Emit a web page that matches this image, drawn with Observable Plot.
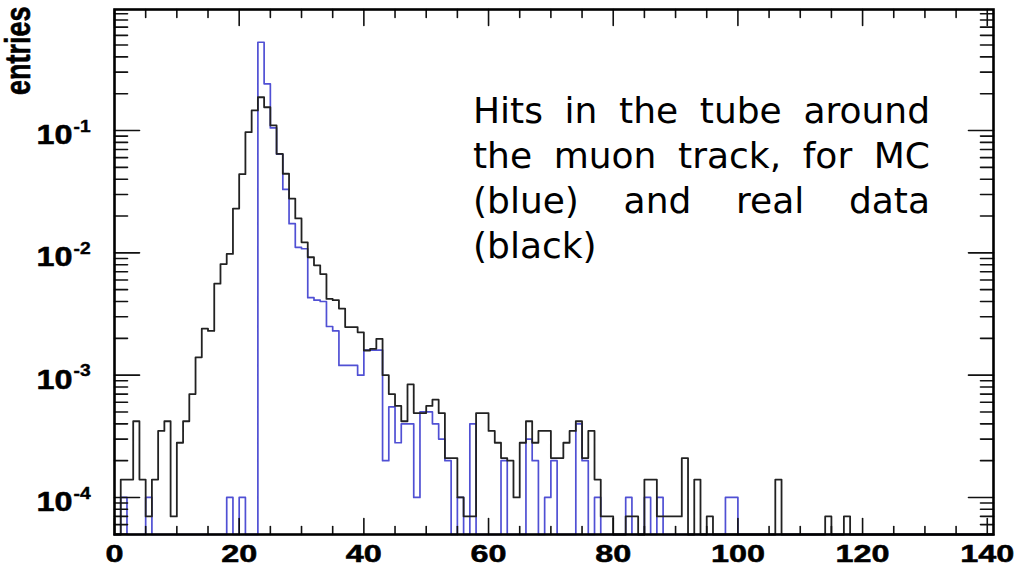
<!DOCTYPE html>
<html>
<head>
<meta charset="utf-8">
<script src="https://cdn.jsdelivr.net/npm/d3@7"></script>
<script src="https://cdn.jsdelivr.net/npm/@observablehq/plot@0.6"></script>
<style>
  html, body { margin: 0; padding: 0; background: #fff; }
  #chart { position: relative; width: 1017px; height: 566px; }
  #note {
    position: absolute; left: 473px; top: 88px; width: 457px;
    font-family: "DejaVu Sans", Verdana, sans-serif; font-size: 36px; line-height: 45px; color: #000;
  }
  #note .ln { text-align: justify; text-align-last: justify; }
  #note .ln.last { text-align-last: left; }
</style>
</head>
<body>
<div id="chart">
  <div id="note">
    <div class="ln">Hits in the tube around</div>
    <div class="ln">the muon track, for MC</div>
    <div class="ln">(blue) and real data</div>
    <div class="ln last">(black)</div>
  </div>
</div>
<script>
// Fraction of entries per hit-count bin (bin i covers [i, i+1)); 0 = empty bin
const dataHits = [
  0, 0.00014, 0.00014, 0.00042, 0.00014, 0.00007, 0.00014, 0.00035, 0.00042, 0.00007,
  0.00028, 0.00042, 0.0007, 0.0014, 0.0024, 0.0023, 0.0056, 0.0081, 0.0098, 0.023,
  0.044, 0.097, 0.146, 0.187, 0.155, 0.110, 0.0645, 0.0443, 0.0278, 0.0191,
  0.0122, 0.0092, 0.0079, 0.0067, 0.0042, 0.0041, 0.0035, 0.00247, 0.00247, 0.00224,
  0.00159, 0.00164, 0.00198, 0.001, 0.0007, 0.00056, 0.00042, 0.00084, 0.00049, 0.00049,
  0.00056, 0.00063, 0.00049, 0.00021, 0.00021, 0.0001, 0.00007, 0.00007, 0.00049, 0.00049,
  0.00035, 0.00028, 0.00021, 0.0002, 0.0001, 0.00028, 0.00042, 0.00028, 0.00035, 0.00035,
  0.00021, 0.00021, 0.00028, 0.00035, 0.00042, 0.00021, 0.00035, 0.00014, 0.00007, 0.00007,
  0, 0, 0.00007, 0.00007, 0, 0.00014, 0.00014, 0.00007, 0.00007, 0.00007,
  0.00007, 0.00021, 0, 0.00014, 0, 0.00007, 0, 0, 0, 0,
  0, 0, 0, 0, 0, 0, 0.00014, 0, 0, 0,
  0, 0, 0, 0, 0.00007, 0, 0, 0.00007, 0, 0,
  0, 0, 0, 0, 0, 0, 0, 0, 0, 0,
  0, 0, 0, 0, 0, 0, 0, 0, 0, 0,
  0
];
const mcHits = [
  0, 0.0001, 0, 0, 0, 0.0001, 0, 0, 0, 0,
  0, 0, 0, 0, 0, 0, 0, 0, 0.0001, 0,
  0.0001, 0, 0, 0.527, 0.241, 0.105, 0.064, 0.033, 0.0173, 0.0111,
  0.0108, 0.0043, 0.0041, 0.0040, 0.0025, 0.0023, 0.0012, 0.0012, 0.0012, 0.001,
  0.0016, 0.0016, 0.0016, 0.0002, 0.00055, 0.00028, 0.0004, 0.0004, 0.0001, 0.0005,
  0.0005, 0.0004, 0.0003, 0.0002, 0, 0.0001, 0, 0.0004, 0, 0,
  0, 0, 0.0002, 0, 0, 0, 0.0003, 0.0002, 0, 0.0001,
  0.0002, 0, 0, 0, 0.0004, 0.0002, 0, 0.0001, 0, 0,
  0, 0, 0.0001, 0, 0, 0.0001, 0, 0.0001, 0, 0,
  0, 0, 0, 0, 0, 0, 0, 0, 0.0001, 0.0001,
  0, 0, 0, 0, 0, 0, 0, 0, 0, 0,
  0, 0, 0, 0, 0, 0, 0, 0, 0, 0,
  0, 0, 0, 0, 0, 0, 0, 0, 0, 0,
  0, 0, 0, 0, 0, 0, 0, 0, 0, 0,
  0
];
const xLabels = [0, 20, 40, 60, 80, 100, 120, 140];
const yDecades = [1e-4, 1e-3, 1e-2, 1e-1];
const yExponents = ["-4", "-3", "-2", "-1"];
const yTitle = "entries";

const xDomain = [0, 141];
const yDomain = [4.98e-5, 0.976];

// ROOT-style outline: one point per bin edge, empty bins sit on the frame floor
function outline(values) {
  const pts = values.map((v, i) => ({x: i, v}));
  pts.push({x: values.length, v: values[values.length - 1]});
  return pts;
}
const floorY = (d) => Math.max(d.v, yDomain[0]);

const xMinor = d3.range(5, 141, 5).filter((t) => t % 20 !== 0);
const yMinor = [];
for (let e = -5; e <= 0; e++) for (let m = 2; m <= 9; m++) {
  const t = m * Math.pow(10, e);
  if (t > yDomain[0] && t < yDomain[1]) yMinor.push(t);
}

const tickShape = {draw(context, l) { context.moveTo(0, 0); context.lineTo(0, -l); }};
const tickStyle = {anchor: "start", shape: tickShape, stroke: "#111", strokeWidth: 1.6};
const heavy = {fontFamily: "Liberation Sans, Arial, sans-serif", fontWeight: "bold", fill: "#000", stroke: "#000", strokeWidth: 0.5};

const chart = Plot.plot({
  width: 1017,
  height: 566,
  marginLeft: 114,
  marginRight: 24,
  marginTop: 9,
  marginBottom: 32,
  x: {domain: xDomain, axis: null},
  y: {type: "log", domain: yDomain, axis: null},
  marks: [
    Plot.line(outline(mcHits), {x: "x", y: floorY, curve: "step-after", stroke: "#5050d4", strokeWidth: 1.7}),
    Plot.line(outline(dataHits), {x: "x", y: floorY, curve: "step-after", stroke: "#222", strokeWidth: 1.8}),
    // ticks drawn inward on all four sides
    Plot.vector(xLabels, {x: (d) => d, frameAnchor: "bottom", length: 16, rotate: 0, ...tickStyle}),
    Plot.vector(xMinor, {x: (d) => d, frameAnchor: "bottom", length: 8, rotate: 0, ...tickStyle}),
    Plot.vector(xLabels, {x: (d) => d, frameAnchor: "top", length: 16, rotate: 180, ...tickStyle}),
    Plot.vector(xMinor, {x: (d) => d, frameAnchor: "top", length: 8, rotate: 180, ...tickStyle}),
    Plot.vector(yDecades, {y: (d) => d, frameAnchor: "left", length: 25, rotate: 90, ...tickStyle}),
    Plot.vector(yMinor, {y: (d) => d, frameAnchor: "left", length: 13, rotate: 90, ...tickStyle}),
    Plot.vector(yDecades, {y: (d) => d, frameAnchor: "right", length: 25, rotate: -90, ...tickStyle}),
    Plot.vector(yMinor, {y: (d) => d, frameAnchor: "right", length: 13, rotate: -90, ...tickStyle}),
    Plot.frame({stroke: "#000", strokeWidth: 2.6}),
    // tick labels (text marks, in this order: x labels, y mantissas, y exponents, y title)
    Plot.text(xLabels, {x: (d) => d, text: (d) => String(d), frameAnchor: "bottom", dy: 27, fontSize: 24, ...heavy}),
    Plot.text(yDecades, {y: (d) => d, text: () => "10", frameAnchor: "left", dx: -42, dy: 5, textAnchor: "end", fontSize: 27, ...heavy}),
    Plot.text(yDecades, {y: (d) => d, text: (d, i) => yExponents[i], frameAnchor: "left", dx: -41, dy: -4, textAnchor: "start", fontSize: 16, ...heavy, strokeWidth: 0.4}),
    Plot.text([yTitle], {text: (d) => d, frameAnchor: "top-left", dx: 5 - 114, dy: -3, rotate: -90, textAnchor: "end", fontSize: 27, ...heavy, strokeWidth: 0.5})
  ]
});

// ROOT's bitmap labels are wide: stretch each label about its own anchor
const textGroups = chart.querySelectorAll('g[aria-label="text"]');
function widen(group, sx, sy) {
  if (!group) return;
  group.querySelectorAll("text").forEach((t) => {
    const tr = t.getAttribute("transform") || "";
    t.setAttribute("transform", `${tr} scale(${sx},${sy})`);
  });
}
widen(textGroups[0], 1.35, 1);
widen(textGroups[1], 1.2, 1);
widen(textGroups[2], 1.2, 1);
widen(textGroups[3], 1, 1.3);

document.getElementById("chart").prepend(chart);
</script>
</body>
</html>
